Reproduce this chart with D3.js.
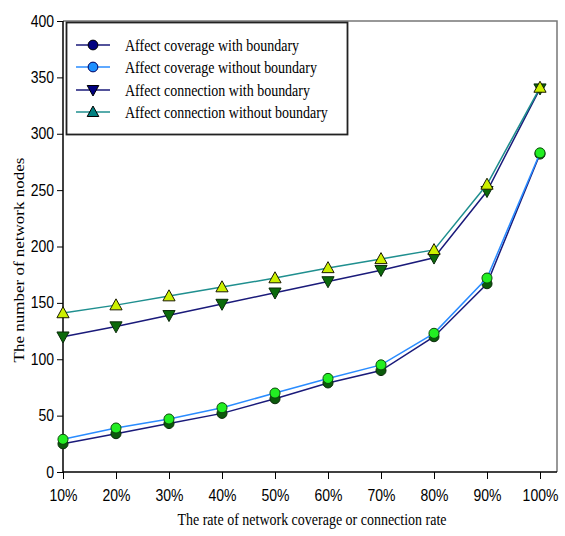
<!DOCTYPE html>
<html>
<head>
<meta charset="utf-8">
<script src="https://cdn.jsdelivr.net/npm/d3@7"></script>
<style>
  html, body { margin: 0; padding: 0; background: #fff; }
  svg { display: block; }
</style>
</head>
<body>
<svg id="chart" width="565" height="536"></svg>
<script>
const categories = ["10%", "20%", "30%", "40%", "50%", "60%", "70%", "80%", "90%", "100%"];
const coverageWithBoundary = [25, 34, 43, 52, 65, 79, 90, 120, 167, 282];
const coverageWithoutBoundary = [29, 39, 47, 57, 70, 83, 95, 123, 172, 283];
const connectionWithBoundary = [120, 129, 139, 149, 159, 169, 179, 190, 249, 340];
const connectionWithoutBoundary = [141, 148, 156, 164, 172, 181, 189, 197, 255, 341];
const seriesNames = [
  "Affect coverage with boundary",
  "Affect coverage without boundary",
  "Affect connection with boundary",
  "Affect connection without boundary"
];
const yTicks = [0, 50, 100, 150, 200, 250, 300, 350, 400];

const series = [
  { name: seriesNames[0], values: coverageWithBoundary, line: "#1a1a7a", shape: "circle",
    fill: "#0b5a0b", stroke: "#0a2a0a", legFill: "#000080", legStroke: "#000" },
  { name: seriesNames[1], values: coverageWithoutBoundary, line: "#2a8cff", shape: "circle",
    fill: "#22ee22", stroke: "#0b4a0b", legFill: "#1e90ff", legStroke: "#000060" },
  { name: seriesNames[2], values: connectionWithBoundary, line: "#1a1a7a", shape: "down",
    fill: "#0b6a0b", stroke: "#0a2a0a", legFill: "#000080", legStroke: "#000" },
  { name: seriesNames[3], values: connectionWithoutBoundary, line: "#1f8f8f", shape: "up",
    fill: "#ccf000", stroke: "#1a1a00", legFill: "#008080", legStroke: "#000" }
];

const svg = d3.select("#chart");
const pLeft = 63, pRight = 557, pTop = 21, pBottom = 472;
const SQ = 0.875; // horizontal squeeze of text seen in the reference

const x = d3.scalePoint().domain(categories).range([63, 540]);
const y = d3.scaleLinear().domain([0, 400]).range([pBottom, pTop]);

// frame (top & right)
svg.append("path")
  .attr("d", `M${pLeft},${pTop}H${pRight}V${pBottom}`)
  .attr("fill", "none").attr("stroke", "#777").attr("stroke-width", 1.5);

// y axis
const yAxis = svg.append("g").attr("transform", `translate(${pLeft},0)`)
  .call(d3.axisLeft(y).tickValues(yTicks).tickSize(6).tickPadding(4.3));
yAxis.select(".domain").attr("stroke", "#000").attr("stroke-width", 1.5).attr("d", `M0,${pTop}V${pBottom}`);
yAxis.selectAll(".tick line").attr("stroke", "#000");
yAxis.selectAll("text").attr("font-family", "'Liberation Sans', Arial, sans-serif")
  .attr("font-size", 16).attr("fill", "#000").attr("transform", `scale(${SQ},1)`);

// x axis
const xAxis = svg.append("g").attr("transform", `translate(0,${pBottom})`)
  .call(d3.axisBottom(x).tickSize(7).tickPadding(11));
xAxis.select(".domain").attr("stroke", "#000").attr("stroke-width", 1.5).attr("d", `M${pLeft},0H${pRight}`);
xAxis.selectAll(".tick line").attr("stroke", "#000");
xAxis.selectAll("text").attr("font-family", "'Liberation Sans', Arial, sans-serif")
  .attr("font-size", 16).attr("fill", "#000").attr("transform", `scale(${SQ},1)`);

// axis titles
svg.append("text")
  .attr("transform", `translate(312,525) scale(${SQ},1)`)
  .attr("text-anchor", "middle")
  .attr("font-family", "'Liberation Serif', 'Times New Roman', serif")
  .attr("font-size", 16)
  .text("The rate of network coverage or connection rate");

svg.append("text")
  .attr("transform", `translate(24,260) rotate(-90) scale(1,${SQ})`)
  .attr("text-anchor", "middle")
  .attr("font-family", "'Liberation Serif', 'Times New Roman', serif")
  .attr("font-size", 17)
  .text("The number of network nodes");

function symbolPath(shape, size) {
  if (shape === "circle") return d3.symbol().type(d3.symbolCircle).size(size)();
  const s = Math.sqrt(size);
  if (shape === "up") return `M0,${-s*0.6}L${s*0.58},${s*0.45}L${-s*0.58},${s*0.45}Z`;
  return `M0,${s*0.6}L${s*0.58},${-s*0.45}L${-s*0.58},${-s*0.45}Z`;
}

const lineGen = d3.line().x((d, i) => x(categories[i])).y(d => y(d));

series.forEach(s => {
  const g = svg.append("g");
  g.append("path").datum(s.values)
    .attr("d", lineGen)
    .attr("fill", "none").attr("stroke", s.line).attr("stroke-width", 1.5);
  g.selectAll("path.mk").data(s.values).enter().append("path")
    .attr("class", "mk")
    .attr("transform", (d, i) => `translate(${x(categories[i])},${y(d)})`)
    .attr("d", symbolPath(s.shape, s.shape === "circle" ? 80 : 110))
    .attr("fill", s.fill).attr("stroke", s.stroke).attr("stroke-width", 1);
});

// legend
const leg = svg.append("g");
leg.append("rect").attr("x", 66.5).attr("y", 22.5).attr("width", 281).attr("height", 112)
  .attr("fill", "#fff").attr("stroke", "#222").attr("stroke-width", 1.8);
const legY = [45, 67, 90, 112];
series.forEach((s, i) => {
  const yy = legY[i];
  leg.append("line").attr("x1", 76).attr("x2", 110).attr("y1", yy).attr("y2", yy)
    .attr("stroke", s.line).attr("stroke-width", 1.5);
  leg.append("path").attr("transform", `translate(93,${yy})`)
    .attr("d", symbolPath(s.shape, s.shape === "circle" ? 75 : 100))
    .attr("fill", s.legFill).attr("stroke", s.legStroke).attr("stroke-width", 1);
  leg.append("text").attr("transform", `translate(125,${yy + 5.5}) scale(${SQ},1)`)
    .attr("font-family", "'Liberation Serif', 'Times New Roman', serif")
    .attr("font-size", 16).text(s.name);
});
</script>
</body>
</html>
